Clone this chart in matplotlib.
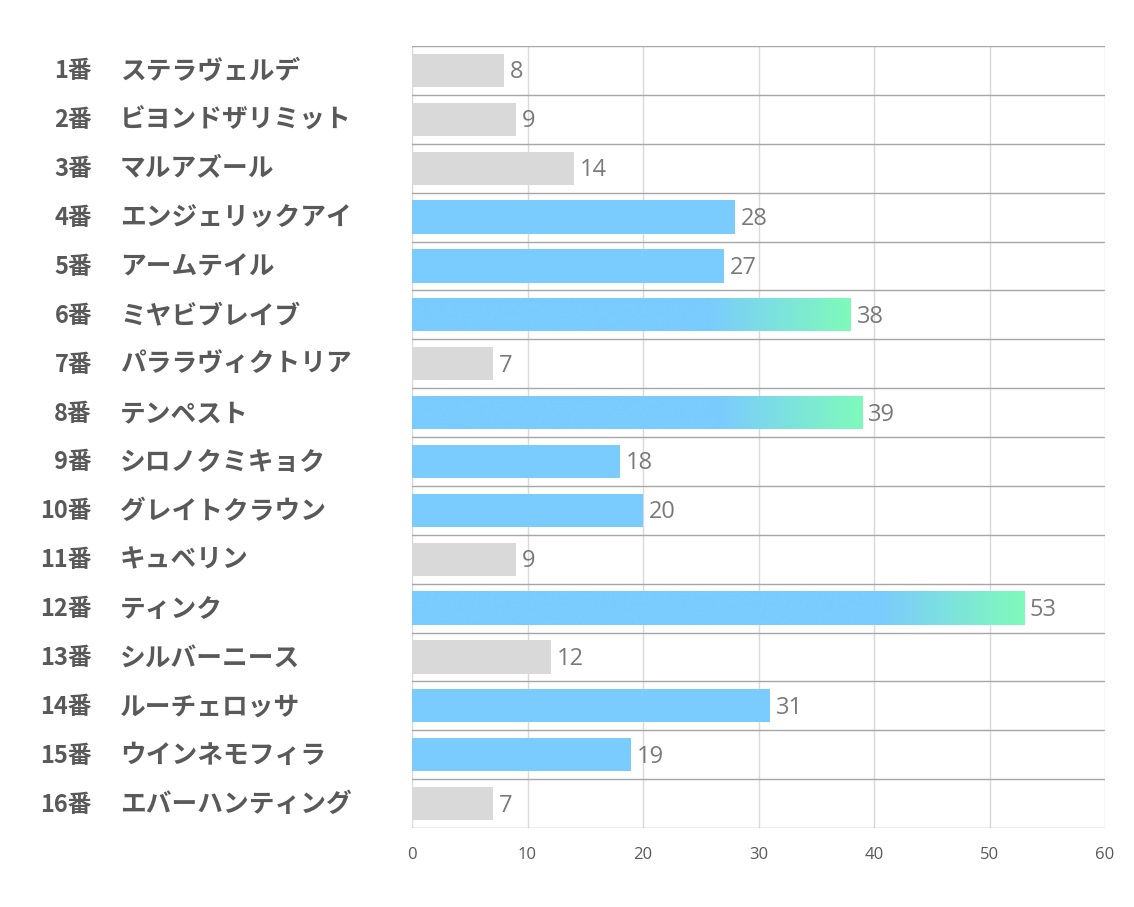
import numpy as np
from matplotlib import pyplot as plt
from matplotlib import transforms
from matplotlib.colors import LinearSegmentedColormap

plt.rcParams['font.family'] = ['Noto Sans CJK JP', 'DejaVu Sans']

numbers = [f"{i}番" for i in range(1, 17)]
names = ["ステラヴェルデ", "ビヨンドザリミット", "マルアズール", "エンジェリックアイ",
         "アームテイル", "ミヤビブレイブ", "パララヴィクトリア", "テンペスト",
         "シロノクミキョク", "グレイトクラウン", "キュベリン", "ティンク",
         "シルバーニース", "ルーチェロッサ", "ウインネモフィラ", "エバーハンティング"]
values = [8, 9, 14, 28, 27, 38, 7, 39, 18, 20, 9, 53, 12, 31, 19, 7]
x_ticks = [0, 10, 20, 30, 40, 50, 60]

GRAY = "#d9d9d9"
BLUE = "#7acbfe"
GREEN = "#7ffabb"
TEXT = "#595959"
grad_cmap = LinearSegmentedColormap.from_list("bg", [BLUE, GREEN])


def bar_color(v):
    return GRAY if v < 15 else BLUE


fig = plt.figure(figsize=(11.34, 9.07), dpi=100)
ax = fig.add_axes([412 / 1134, 79 / 907, 693 / 1134, 782 / 907])

n = len(values)
ypos = np.arange(n)
bars = ax.barh(ypos, values, height=0.68, color=[bar_color(v) for v in values], zorder=2)

# gradient on the tips of the longest bars
for bar, v in zip(bars, values):
    if v >= 35:
        x0, w = bar.get_x(), bar.get_width()
        y0, h = bar.get_y(), bar.get_height()
        xs = np.linspace(x0, x0 + w, 400)
        g = np.clip((xs - (x0 + w - 12.5)) / 12.5, 0, 1)
        img = ax.imshow(g[np.newaxis, :], extent=[x0, x0 + w, y0, y0 + h], cmap=grad_cmap,
                        vmin=0, vmax=1, aspect="auto", zorder=3, interpolation="bilinear")
        img.set_clip_path(bar)

for v, y in zip(values, ypos):
    ax.text(v + 0.5, y + 0.04, str(v), va="center", ha="left", fontsize=17,
            color="#7a7a7a", family=["Open Sans", "DejaVu Sans"], zorder=4)

ax.set_xlim(0, 60)
ax.set_ylim(n - 0.5, -0.5)
ax.set_aspect("auto")

for x in x_ticks:
    ax.axvline(x, color="#d9d9d9", lw=1, zorder=1)
for b in np.arange(-0.5, n, 1):
    ax.axhline(b, color="#a6a6a6", lw=1, zorder=1)

for s in ax.spines.values():
    s.set_visible(False)

ax.set_xticks(x_ticks)
ax.set_xticklabels([str(t) for t in x_ticks], family=["Open Sans", "DejaVu Sans"])
ax.tick_params(axis="x", length=0, pad=14, labelsize=12, labelcolor=TEXT)
ax.set_yticks([])

trans = transforms.blended_transform_factory(ax.transAxes, ax.transData)
for num, name, y in zip(numbers, names, ypos):
    ax.text(-0.4618, y + 0.02, num, transform=trans, ha="right", va="center",
            fontsize=17, fontweight="bold", color=TEXT)
    ax.text(-0.4214, y + 0.02, name, transform=trans, ha="left", va="center",
            fontsize=18.5, fontweight="bold", color=TEXT)

fig.savefig("out.png", dpi=100, facecolor="white")
